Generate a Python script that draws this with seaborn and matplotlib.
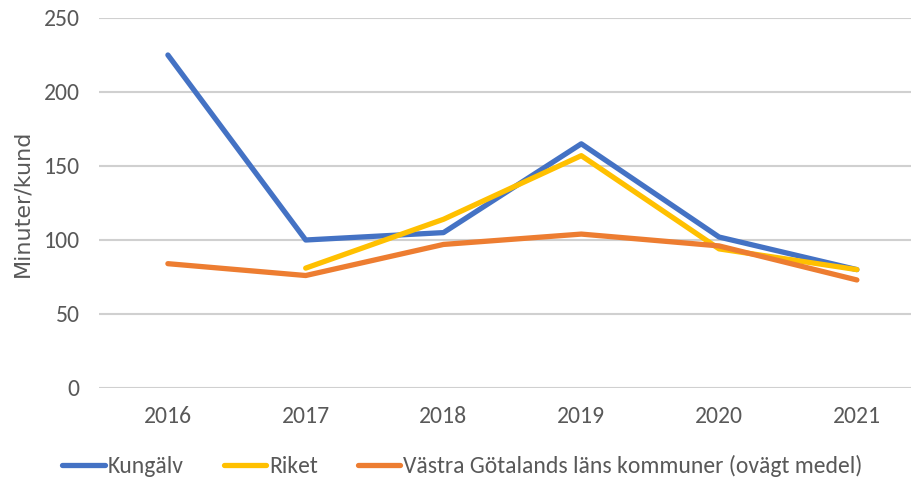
import matplotlib
matplotlib.use("Agg")
import matplotlib.pyplot as plt
import seaborn as sns
import numpy as np
import pandas as pd
from matplotlib.lines import Line2D

years = ["2016", "2017", "2018", "2019", "2020", "2021"]
kungalv = [225, 100, 105, 165, 102, 80]
riket = [np.nan, 81, 114, 157, 94, 80]
vastra = [84, 76, 97, 104, 96, 73]
series_names = ["Kungälv", "Riket", "Västra Götalands läns kommuner (ovägt medel)"]
colors = ["#4472C4", "#FFC000", "#ED7D31"]
yticks = [0, 50, 100, 150, 200, 250]

rows = []
for name, vals in zip(series_names, [kungalv, riket, vastra]):
    for y, v in zip(years, vals):
        rows.append({"År": y, "Värde": v, "Serie": name})
df = pd.DataFrame(rows).dropna()

sns.set_theme(style="white")
plt.rcParams['font.family'] = ['Carlito', 'Lato', 'DejaVu Sans']

fig = plt.figure(figsize=(9.12, 4.83), dpi=100)
ax = fig.add_axes([99/912, (483-388)/483, 1 - 99/912, (388-18)/483])

sns.lineplot(data=df, x="År", y="Värde", hue="Serie", hue_order=series_names,
             palette=colors, linewidth=3.8, sort=False, ax=ax, legend=False)

ax.set_ylim(0, 250)
ax.set_xlim(-0.5, 5.4)
ax.set_yticks(yticks)
ax.yaxis.grid(True, color="#D0D0D0", linewidth=1.5)
ax.set_axisbelow(True)
for s in ax.spines.values():
    s.set_visible(False)
ax.tick_params(axis="both", length=0, labelsize=17, colors="#595959", pad=14)
ax.tick_params(axis="x", pad=13)
ax.set_xlabel("")
ax.set_ylabel("Minuter/kund", fontsize=16, color="#595959", family=["DejaVu Sans"], labelpad=8)

handles = [Line2D([0], [0], color=c, lw=3.8) for c in colors]
fig.legend(handles, series_names, loc="center", bbox_to_anchor=(0.507, 0.035), ncol=3,
           frameon=False, fontsize=17, handlelength=1.8, handletextpad=0.12,
           columnspacing=1.7, labelcolor="#595959")

fig.savefig("out.png", dpi=100)
